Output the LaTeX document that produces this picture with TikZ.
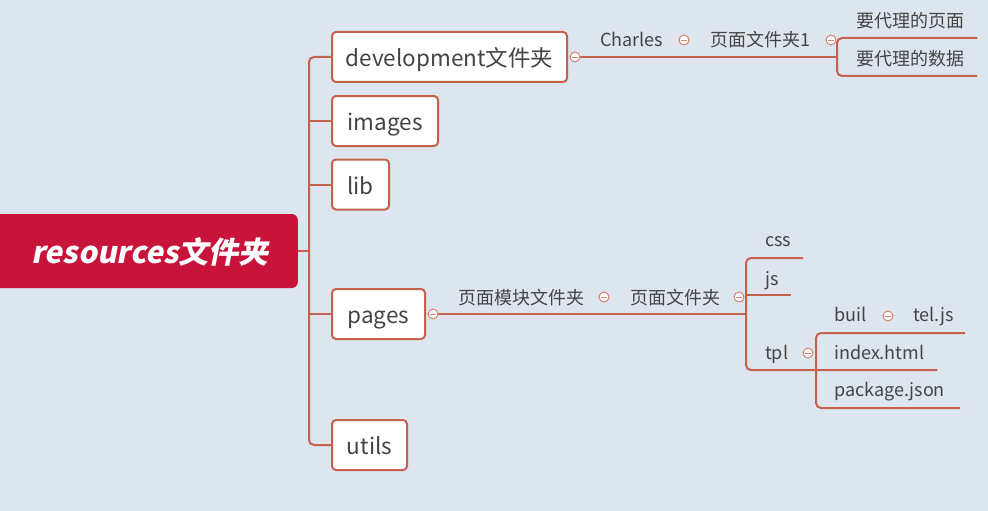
\documentclass[tikz,border=0pt]{standalone}
\usepackage{fontspec}
\setmainfont{Noto Sans CJK SC}
\newfontfamily\rootfont{Noto Sans CJK SC}[FakeSlant=0.2]
\definecolor{bgcol}{RGB}{221,229,238}
\definecolor{conncol}{RGB}{196,98,78}
\definecolor{circcol}{RGB}{214,130,115}
\definecolor{txtcol}{RGB}{68,68,68}
\definecolor{rootcol}{RGB}{200,20,58}
\tikzset{
  conn/.style={draw=conncol, line width=2pt, rounded corners=5pt},
  box/.style={draw=conncol, line width=2pt, fill=white, rounded corners=4pt, inner sep=0pt,
    text=txtcol, font=\fontsize{22.5}{25}\selectfont, minimum height=50pt,
    text height=19pt, text depth=0pt},
  rootbox/.style={fill=rootcol, rounded corners=6pt, inner sep=0pt},
  roottext/.style={text=white, font=\rootfont\fontsize{30}{34}\selectfont\bfseries, inner sep=0pt},
  lbl/.style={text=txtcol, font=\fontsize{18}{20}\selectfont, inner sep=0pt, anchor=base west},
  collapse/.style={circle, draw=circcol, fill=white, line width=1pt, minimum size=10pt, inner sep=0pt,
    path picture={\draw[draw=circcol, line width=0.9pt]
      ([xshift=-2.6pt]path picture bounding box.center) -- ([xshift=2.6pt]path picture bounding box.center);}}
}
\begin{document}
\begin{tikzpicture}[x=1pt,y=-1pt]
\fill[bgcol] (0,0) rectangle (988,511);
\useasboundingbox (0,0) rectangle (988,511);

% root
\node[rootbox, minimum width=318pt, minimum height=74pt, anchor=east] (root) at (298,251) {};
\node[roottext] (roottxt) at (150,252) {resources文件夹};

% first level boxes
\node[box, minimum width=235pt] (dev) at (449.5,57) {development文件夹};
\node[box, minimum width=106pt] (images) at (385,121) {images};
\node[box, minimum width=57pt] (lib) at (360.5,184.5) {lib};
\node[box, minimum width=93pt] (pages) at (378.5,314) {pages};
\node[box, minimum width=75pt] (utils) at (369.5,445) {utils};

% trunk coordinates
\coordinate (tr) at (309,251);
\coordinate (tdev) at (309,57);
\coordinate (timg) at (309,121);
\coordinate (tlib) at (309,184.5);
\coordinate (tpg) at (309,314);
\coordinate (tut) at (309,445);

\draw[conn] (dev.west) -- (tdev) -- (tut) -- (utils.west);
\draw[conn] (images.west) -- (timg);
\draw[conn] (lib.west) -- (tlib);
\draw[conn] (pages.west) -- (tpg);
\draw[conn] (root.east) -- (tr);

% development subtree
\coordinate (cdevp) at (575,57);
\coordinate (b1) at (837,57);
\coordinate (b1t) at (837,38);
\coordinate (b1b) at (837,76);
\coordinate (e1t) at (977,38);
\coordinate (e1b) at (977,76);
\draw[conn] (cdevp) -- (b1);
\draw[conn] (e1t) -- (b1t) -- (b1b) -- (e1b);
\node[lbl] (charles) at (600,46.5) {Charles};
\node[lbl] (pf1) at (710,46.5) {页面文件夹1};
\node[lbl] (dl1) at (856,28) {要代理的页面};
\node[lbl] (dl2) at (856,66) {要代理的数据};
\node[collapse] (cdev) at (575,57) {};
\node[collapse] (cch) at (684,40) {};
\node[collapse] (cpf1) at (831,40) {};

% pages subtree
\coordinate (cpgp) at (433,314);
\coordinate (b2) at (746,314);
\coordinate (b2t) at (746,258);
\coordinate (b2b) at (746,370);
\coordinate (e2t) at (803,258);
\coordinate (b2j) at (746,295);
\coordinate (e2j) at (791,295);
\coordinate (e2b) at (937,370);
\coordinate (b3t) at (816,333);
\coordinate (b3b) at (816,408);
\coordinate (e3t) at (965,333);
\coordinate (e3b) at (960,408);
\draw[conn] (cpgp) -- (b2);
\draw[conn] (e2t) -- (b2t) -- (b2b) -- (e2b);
\draw[conn] (b2j) -- (e2j);
\draw[conn] (e3t) -- (b3t) -- (b3b) -- (e3b);
\node[lbl] (pmod) at (458,304.5) {页面模块文件夹};
\node[lbl] (pfold) at (630,304.5) {页面文件夹};
\node[lbl] (css) at (765,246.5) {css};
\node[lbl] (js) at (765,285) {js};
\node[lbl] (tpl) at (765,359) {tpl};
\node[lbl] (buil) at (834,321.5) {buil};
\node[lbl] (tel) at (913,321.5) {tel.js};
\node[lbl] (index) at (834,359) {index.html};
\node[lbl] (pkg) at (834,396.5) {package.json};
\node[collapse] (cpg) at (433,314) {};
\node[collapse] (cpm) at (604,297) {};
\node[collapse] (cpf) at (739,297) {};
\node[collapse] (ctpl) at (808,353) {};
\node[collapse] (cbuil) at (888,316) {};
\end{tikzpicture}
\end{document}
